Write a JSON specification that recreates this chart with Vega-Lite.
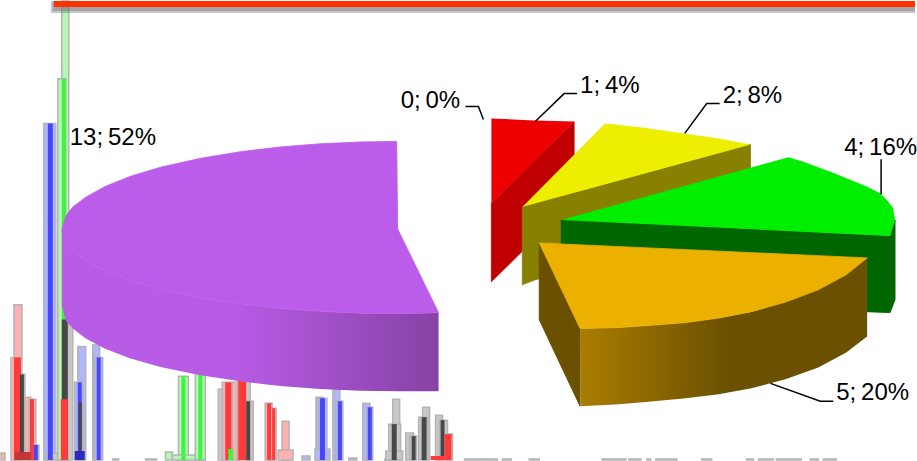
{
"$schema":"https://vega.github.io/schema/vega-lite/v6.json",
"width":917,"height":461,"padding":0,
"autosize":{"type":"fit","contains":"padding"},
"background":"white",
"config":{"view":{"stroke":null}},
"resolve":{"scale":{"fill":"independent","stroke":"independent"}},
"datasets":{
"halos":[
{"start":0,"end":4,"height":7,"tone":"red"},
{"start":13,"end":21,"height":156,"tone":"red"},
{"start":10,"end":19,"height":103,"tone":"red"},
{"start":17,"end":24,"height":86,"tone":"gray"},
{"start":24,"end":30,"height":63,"tone":"red"},
{"start":28,"end":35,"height":61,"tone":"red"},
{"start":31,"end":38,"height":15,"tone":"blue"},
{"start":43,"end":55,"height":338,"tone":"blue"},
{"start":46,"end":58,"height":7,"tone":"gray"},
{"start":61,"end":68,"height":461,"tone":"green"},
{"start":57,"end":65,"height":383,"tone":"green"},
{"start":67,"end":72,"height":136,"tone":"gray"},
{"start":77,"end":85,"height":114,"tone":"blue"},
{"start":74,"end":82,"height":78,"tone":"blue"},
{"start":92,"end":99,"height":116,"tone":"blue"},
{"start":94,"end":102,"height":103,"tone":"blue"},
{"start":112,"end":118,"height":1,"tone":"gray"},
{"start":145,"end":156,"height":1,"tone":"gray"},
{"start":165,"end":172,"height":8,"tone":"green"},
{"start":178,"end":188,"height":84,"tone":"green"},
{"start":172,"end":205,"height":5,"tone":"green"},
{"start":195,"end":205,"height":88,"tone":"green"},
{"start":218,"end":226,"height":71,"tone":"gray"},
{"start":222,"end":232,"height":78,"tone":"red"},
{"start":232,"end":238,"height":78,"tone":"red"},
{"start":237,"end":250,"height":81,"tone":"gray"},
{"start":245,"end":253,"height":59,"tone":"gray"},
{"start":265,"end":272,"height":57,"tone":"red"},
{"start":270,"end":276,"height":52,"tone":"red"},
{"start":282,"end":289,"height":39,"tone":"red"},
{"start":278,"end":293,"height":10,"tone":"red"},
{"start":302,"end":310,"height":4,"tone":"blue"},
{"start":316,"end":323,"height":63,"tone":"blue"},
{"start":319,"end":327,"height":62,"tone":"blue"},
{"start":315,"end":330,"height":11,"tone":"blue"},
{"start":333,"end":340,"height":71,"tone":"blue"},
{"start":336,"end":343,"height":59,"tone":"blue"},
{"start":349,"end":357,"height":2,"tone":"blue"},
{"start":363,"end":370,"height":57,"tone":"blue"},
{"start":367,"end":373,"height":53,"tone":"blue"},
{"start":385,"end":398,"height":1,"tone":"gray"},
{"start":393,"end":400,"height":61,"tone":"gray"},
{"start":389,"end":401,"height":36,"tone":"gray"},
{"start":386,"end":403,"height":9,"tone":"gray"},
{"start":406,"end":414,"height":27,"tone":"gray"},
{"start":410,"end":417,"height":24,"tone":"gray"},
{"start":423,"end":430,"height":53,"tone":"gray"},
{"start":419,"end":428,"height":43,"tone":"gray"},
{"start":436,"end":443,"height":45,"tone":"gray"},
{"start":440,"end":448,"height":40,"tone":"gray"},
{"start":447,"end":453,"height":26,"tone":"red"},
{"start":465,"end":486,"height":1,"tone":"red"},
{"start":487,"end":498,"height":1,"tone":"gray"},
{"start":503,"end":512,"height":1,"tone":"gray"},
{"start":530,"end":540,"height":1,"tone":"gray"},
{"start":603,"end":627,"height":1,"tone":"red"},
{"start":630,"end":642,"height":1,"tone":"gray"},
{"start":648,"end":652,"height":1,"tone":"gray"},
{"start":657,"end":678,"height":1,"tone":"red"},
{"start":703,"end":713,"height":1,"tone":"gray"},
{"start":748,"end":755,"height":1,"tone":"green"},
{"start":760,"end":775,"height":1,"tone":"green"},
{"start":778,"end":803,"height":1,"tone":"green"},
{"start":812,"end":820,"height":1,"tone":"gray"},
{"start":825,"end":838,"height":1,"tone":"gray"}
],
"cores":[
{"start":13,"end":20,"height":103,"tone":"red"},
{"start":19,"end":23,"height":86,"tone":"dark"},
{"start":29,"end":33,"height":61,"tone":"red"},
{"start":33,"end":37,"height":15,"tone":"blue"},
{"start":14,"end":30,"height":8,"tone":"maroon"},
{"start":47,"end":52,"height":338,"tone":"blue"},
{"start":61,"end":65,"height":383,"tone":"green"},
{"start":61,"end":67,"height":141,"tone":"dark"},
{"start":60,"end":67,"height":61,"tone":"red"},
{"start":77,"end":81,"height":78,"tone":"blue"},
{"start":78,"end":81,"height":58,"tone":"dark"},
{"start":74,"end":84,"height":9,"tone":"navy"},
{"start":96,"end":100,"height":103,"tone":"blue"},
{"start":181,"end":185,"height":84,"tone":"green"},
{"start":198,"end":202,"height":88,"tone":"green"},
{"start":225,"end":231,"height":78,"tone":"red"},
{"start":228,"end":233,"height":11,"tone":"green"},
{"start":238,"end":246,"height":81,"tone":"red"},
{"start":246,"end":250,"height":59,"tone":"dark"},
{"start":267,"end":271,"height":57,"tone":"red"},
{"start":272,"end":275,"height":52,"tone":"red"},
{"start":320,"end":325,"height":62,"tone":"blue"},
{"start":338,"end":342,"height":59,"tone":"blue"},
{"start":368,"end":372,"height":53,"tone":"blue"},
{"start":392,"end":397,"height":36,"tone":"dark"},
{"start":412,"end":416,"height":24,"tone":"dark"},
{"start":422,"end":427,"height":43,"tone":"dark"},
{"start":441,"end":445,"height":40,"tone":"dark"},
{"start":445,"end":452,"height":26,"tone":"red"},
{"start":431,"end":450,"height":4,"tone":"red"}
],
"faces":[
{"face":"red side","n":1,"x":575,"y":340},{"face":"red side","n":2,"x":575,"y":261},{"face":"red side","n":3,"x":492,"y":179},{"face":"red side","n":4,"x":492,"y":258},
{"face":"red top","n":1,"x":492,"y":343},{"face":"red top","n":2,"x":535,"y":341},{"face":"red top","n":3,"x":575,"y":340},{"face":"red top","n":4,"x":492,"y":258},
{"face":"yellow side","n":1,"x":523,"y":254},{"face":"yellow side","n":2,"x":752,"y":317},{"face":"yellow side","n":3,"x":752,"y":237},{"face":"yellow side","n":4,"x":536,"y":181},{"face":"yellow side","n":5,"x":523,"y":176},
{"face":"yellow top","n":1,"x":523,"y":254},{"face":"yellow top","n":2,"x":606,"y":338},{"face":"yellow top","n":3,"x":625,"y":336},{"face":"yellow top","n":4,"x":643,"y":334},{"face":"yellow top","n":5,"x":665,"y":331},{"face":"yellow top","n":6,"x":685,"y":328},{"face":"yellow top","n":7,"x":720,"y":323},{"face":"yellow top","n":8,"x":752,"y":317},
{"face":"green side","n":1,"x":562,"y":241},{"face":"green side","n":2,"x":892,"y":225},{"face":"green side","n":3,"x":897,"y":241},{"face":"green side","n":4,"x":897,"y":161},{"face":"green side","n":5,"x":892,"y":148},{"face":"green side","n":6,"x":562,"y":161},
{"face":"green top","n":1,"x":562,"y":241},{"face":"green top","n":2,"x":790,"y":304},{"face":"green top","n":3,"x":805,"y":299.5},{"face":"green top","n":4,"x":820,"y":294},{"face":"green top","n":5,"x":836,"y":288},{"face":"green top","n":6,"x":853,"y":281},{"face":"green top","n":7,"x":868,"y":275},{"face":"green top","n":8,"x":882,"y":268},{"face":"green top","n":9,"x":889,"y":261},{"face":"green top","n":10,"x":895,"y":253},{"face":"green top","n":11,"x":897,"y":241},{"face":"green top","n":12,"x":892,"y":225},
{"face":"amber side","n":1,"x":540,"y":218},{"face":"amber side","n":2,"x":581,"y":132},{"face":"amber side","n":3,"x":581,"y":54},{"face":"amber side","n":4,"x":540,"y":141},
{"face":"amber rim","n":1,"x":581,"y":132},{"face":"amber rim","n":2,"x":620,"y":133},{"face":"amber rim","n":3,"x":655,"y":135.5},{"face":"amber rim","n":4,"x":687,"y":138},{"face":"amber rim","n":5,"x":720,"y":142.5},{"face":"amber rim","n":6,"x":753,"y":149},{"face":"amber rim","n":7,"x":787,"y":158.5},{"face":"amber rim","n":8,"x":820,"y":171},{"face":"amber rim","n":9,"x":848,"y":186},{"face":"amber rim","n":10,"x":869,"y":203},{"face":"amber rim","n":11,"x":869,"y":124},{"face":"amber rim","n":12,"x":848,"y":108},{"face":"amber rim","n":13,"x":820,"y":93},{"face":"amber rim","n":14,"x":787,"y":81},{"face":"amber rim","n":15,"x":753,"y":72},{"face":"amber rim","n":16,"x":720,"y":66},{"face":"amber rim","n":17,"x":687,"y":62},{"face":"amber rim","n":18,"x":655,"y":59},{"face":"amber rim","n":19,"x":620,"y":56},{"face":"amber rim","n":20,"x":582,"y":54},
{"face":"amber top","n":1,"x":540,"y":218},{"face":"amber top","n":2,"x":869,"y":203},{"face":"amber top","n":3,"x":848,"y":186},{"face":"amber top","n":4,"x":820,"y":171},{"face":"amber top","n":5,"x":787,"y":158.5},{"face":"amber top","n":6,"x":753,"y":149},{"face":"amber top","n":7,"x":720,"y":142.5},{"face":"amber top","n":8,"x":687,"y":138},{"face":"amber top","n":9,"x":655,"y":135.5},{"face":"amber top","n":10,"x":620,"y":133},{"face":"amber top","n":11,"x":581,"y":132},
{"face":"purple rim","n":1,"x":61,"y":231},{"face":"purple rim","n":2,"x":61,"y":155},{"face":"purple rim","n":3,"x":65,"y":140},{"face":"purple rim","n":4,"x":72,"y":132},{"face":"purple rim","n":5,"x":85,"y":122},{"face":"purple rim","n":6,"x":105,"y":111.5},{"face":"purple rim","n":7,"x":130,"y":102},{"face":"purple rim","n":8,"x":160,"y":93.5},{"face":"purple rim","n":9,"x":200,"y":85},{"face":"purple rim","n":10,"x":240,"y":79},{"face":"purple rim","n":11,"x":280,"y":74.3},{"face":"purple rim","n":12,"x":320,"y":71.3},{"face":"purple rim","n":13,"x":360,"y":69.5},{"face":"purple rim","n":14,"x":400,"y":69},{"face":"purple rim","n":15,"x":439,"y":69},{"face":"purple rim","n":16,"x":439,"y":148},{"face":"purple rim","n":17,"x":400,"y":147},{"face":"purple rim","n":18,"x":360,"y":147.5},{"face":"purple rim","n":19,"x":320,"y":149.3},{"face":"purple rim","n":20,"x":280,"y":152.3},{"face":"purple rim","n":21,"x":240,"y":157},{"face":"purple rim","n":22,"x":200,"y":163},{"face":"purple rim","n":23,"x":160,"y":171.5},{"face":"purple rim","n":24,"x":130,"y":180},{"face":"purple rim","n":25,"x":105,"y":189.5},{"face":"purple rim","n":26,"x":85,"y":200},{"face":"purple rim","n":27,"x":72,"y":210},{"face":"purple rim","n":28,"x":65,"y":218},
{"face":"purple top","n":1,"x":397,"y":320},{"face":"purple top","n":2,"x":360,"y":319.4},{"face":"purple top","n":3,"x":320,"y":317.6},{"face":"purple top","n":4,"x":280,"y":314.4},{"face":"purple top","n":5,"x":240,"y":309.6},{"face":"purple top","n":6,"x":200,"y":303},{"face":"purple top","n":7,"x":160,"y":294},{"face":"purple top","n":8,"x":130,"y":285},{"face":"purple top","n":9,"x":105,"y":275},{"face":"purple top","n":10,"x":85,"y":264},{"face":"purple top","n":11,"x":72,"y":254},{"face":"purple top","n":12,"x":65,"y":245},{"face":"purple top","n":13,"x":61,"y":231},{"face":"purple top","n":14,"x":65,"y":218},{"face":"purple top","n":15,"x":72,"y":210},{"face":"purple top","n":16,"x":85,"y":200},{"face":"purple top","n":17,"x":105,"y":189.5},{"face":"purple top","n":18,"x":130,"y":180},{"face":"purple top","n":19,"x":160,"y":171.5},{"face":"purple top","n":20,"x":200,"y":163},{"face":"purple top","n":21,"x":240,"y":157},{"face":"purple top","n":22,"x":280,"y":152.3},{"face":"purple top","n":23,"x":320,"y":149.3},{"face":"purple top","n":24,"x":360,"y":147.5},{"face":"purple top","n":25,"x":400,"y":147},{"face":"purple top","n":26,"x":439,"y":148},{"face":"purple top","n":27,"x":398,"y":232}
],
"leaders":[
{"slice":"0","n":1,"x":466,"y":355},{"slice":"0","n":2,"x":479,"y":355},{"slice":"0","n":3,"x":484,"y":342},
{"slice":"1","n":1,"x":536,"y":340},{"slice":"1","n":2,"x":565,"y":368},{"slice":"1","n":3,"x":578,"y":368},
{"slice":"2","n":1,"x":686,"y":328},{"slice":"2","n":2,"x":708,"y":358},{"slice":"2","n":3,"x":721,"y":358},
{"slice":"4","n":1,"x":883,"y":267},{"slice":"4","n":2,"x":883,"y":302},
{"slice":"5","n":1,"x":772,"y":77},{"slice":"5","n":2,"x":822,"y":59},{"slice":"5","n":3,"x":835,"y":59}
],
"labels":[
{"text":"0;\u20090%","x":401,"y":354},
{"text":"1;\u20094%","x":581,"y":369},
{"text":"2;\u20098%","x":724,"y":359},
{"text":"4;\u200916%","x":846,"y":306},
{"text":"5;\u200920%","x":838,"y":60},
{"text":"13;\u200952%","x":69,"y":316}
],
"banner":[
{"x":50,"x2":917,"y":449,"y2":461,"part":"shadow"},
{"x":52,"x2":917,"y":451,"y2":461,"part":"shadow"},
{"x":53,"x2":917,"y":455,"y2":461,"part":"band"}
]
},
"encoding":{
"x":{"type":"quantitative","scale":{"domain":[0,917],"nice":false,"zero":false},"axis":null},
"y":{"type":"quantitative","scale":{"domain":[0,461],"nice":false,"zero":false},"axis":null}
},
"layer":[
{"data":{"name":"halos"},
 "mark":{"type":"rect","stroke":"#b4b4b4","strokeWidth":1.5},
 "encoding":{"x":{"field":"start"},"x2":{"field":"end"},"y":{"field":"height"},"y2":{"datum":0},
  "fill":{"field":"tone","type":"nominal","legend":null,"scale":{"domain":["red","green","blue","gray"],"range":["#ffb0b0","#b4f7b4","#b0b6fa","#c8c8c8"]}}}},
{"data":{"name":"cores"},
 "mark":{"type":"rect"},
 "encoding":{"x":{"field":"start"},"x2":{"field":"end"},"y":{"field":"height"},"y2":{"datum":0},
  "fill":{"field":"tone","type":"nominal","legend":null,"scale":{"domain":["red","green","blue","dark","maroon","navy"],"range":["#ff3a3a","#3cf53c","#4646ff","#484848","#c03838","#2a2ac0"]}}}},
{"data":{"name":"banner"},"transform":[{"filter":"datum.part==='shadow'"}],
 "mark":{"type":"rect","fill":"#707070","opacity":0.4},
 "encoding":{"x":{"field":"x"},"x2":{"field":"x2"},"y":{"field":"y"},"y2":{"field":"y2"}}},
{"data":{"name":"banner"},"transform":[{"filter":"datum.part==='band'"}],
 "mark":{"type":"rect","fill":"#ff3300"},
 "encoding":{"x":{"field":"x"},"x2":{"field":"x2"},"y":{"field":"y"},"y2":{"field":"y2"}}},
{"data":{"name":"faces"},"transform":[{"filter":"datum.face==='red side'"}],
 "mark":{"type":"line","strokeWidth":0.8,"stroke":"#c00000","interpolate":"linear-closed","fill":"#c00000"},
 "encoding":{"x":{"field":"x"},"y":{"field":"y"},"order":{"field":"n"}}},
{"data":{"name":"faces"},"transform":[{"filter":"datum.face==='red top'"}],
 "mark":{"type":"line","strokeWidth":0,"interpolate":"linear-closed","fill":"#ee0000"},
 "encoding":{"x":{"field":"x"},"y":{"field":"y"},"order":{"field":"n"}}},
{"data":{"name":"faces"},"transform":[{"filter":"datum.face==='yellow side'"}],
 "mark":{"type":"line","strokeWidth":0.8,"stroke":"#888000","interpolate":"linear-closed","fill":"#888000"},
 "encoding":{"x":{"field":"x"},"y":{"field":"y"},"order":{"field":"n"}}},
{"data":{"name":"faces"},"transform":[{"filter":"datum.face==='yellow top'"}],
 "mark":{"type":"line","strokeWidth":0,"interpolate":"linear-closed","fill":"#eeee00"},
 "encoding":{"x":{"field":"x"},"y":{"field":"y"},"order":{"field":"n"}}},
{"data":{"name":"faces"},"transform":[{"filter":"datum.face==='green side'"}],
 "mark":{"type":"line","strokeWidth":0.8,"stroke":"#006600","interpolate":"linear-closed","fill":"#006600"},
 "encoding":{"x":{"field":"x"},"y":{"field":"y"},"order":{"field":"n"}}},
{"data":{"name":"faces"},"transform":[{"filter":"datum.face==='green top'"}],
 "mark":{"type":"line","strokeWidth":0,"interpolate":"linear-closed","fill":"#00ee00"},
 "encoding":{"x":{"field":"x"},"y":{"field":"y"},"order":{"field":"n"}}},
{"data":{"name":"faces"},"transform":[{"filter":"datum.face==='amber side'"}],
 "mark":{"type":"line","strokeWidth":1,"stroke":"#6a5000","interpolate":"linear-closed","fill":"#6a5000"},
 "encoding":{"x":{"field":"x"},"y":{"field":"y"},"order":{"field":"n"}}},
{"data":{"name":"faces"},"transform":[{"filter":"datum.face==='amber rim'"}],
 "mark":{"type":"line","strokeWidth":0,"interpolate":"linear-closed","fill":{"gradient":"linear","x1":0,"y1":0,"x2":1,"y2":0,"stops":[{"offset":0,"color":"#aa7d00"},{"offset":0.52,"color":"#6a5000"},{"offset":1,"color":"#6a5000"}]}},
 "encoding":{"x":{"field":"x"},"y":{"field":"y"},"order":{"field":"n"}}},
{"data":{"name":"faces"},"transform":[{"filter":"datum.face==='amber top'"}],
 "mark":{"type":"line","strokeWidth":0.8,"stroke":"#ecb000","interpolate":"linear-closed","fill":"#ecb000"},
 "encoding":{"x":{"field":"x"},"y":{"field":"y"},"order":{"field":"n"}}},
{"data":{"name":"faces"},"transform":[{"filter":"datum.face==='purple rim'"}],
 "mark":{"type":"line","strokeWidth":0,"interpolate":"linear-closed","fill":{"gradient":"linear","x1":0,"y1":0,"x2":1,"y2":0,"stops":[{"offset":0,"color":"#b85ce6"},{"offset":0.45,"color":"#b85ce6"},{"offset":1,"color":"#8742a5"}]}},
 "encoding":{"x":{"field":"x"},"y":{"field":"y"},"order":{"field":"n"}}},
{"data":{"name":"faces"},"transform":[{"filter":"datum.face==='purple top'"}],
 "mark":{"type":"line","strokeWidth":0.8,"stroke":"#bb5dea","interpolate":"linear-closed","fill":"#bb5dea"},
 "encoding":{"x":{"field":"x"},"y":{"field":"y"},"order":{"field":"n"}}},
{"data":{"name":"leaders"},
 "mark":{"type":"line","color":"#000000","strokeWidth":1.5},
 "encoding":{"x":{"field":"x"},"y":{"field":"y"},"order":{"field":"n"},"detail":{"field":"slice"}}},
{"data":{"name":"labels"},
 "mark":{"type":"text","font":"Liberation Sans","fontSize":24,"align":"left","baseline":"alphabetic","color":"#000000"},
 "encoding":{"x":{"field":"x"},"y":{"field":"y"},"text":{"field":"text"}}}
]
}
